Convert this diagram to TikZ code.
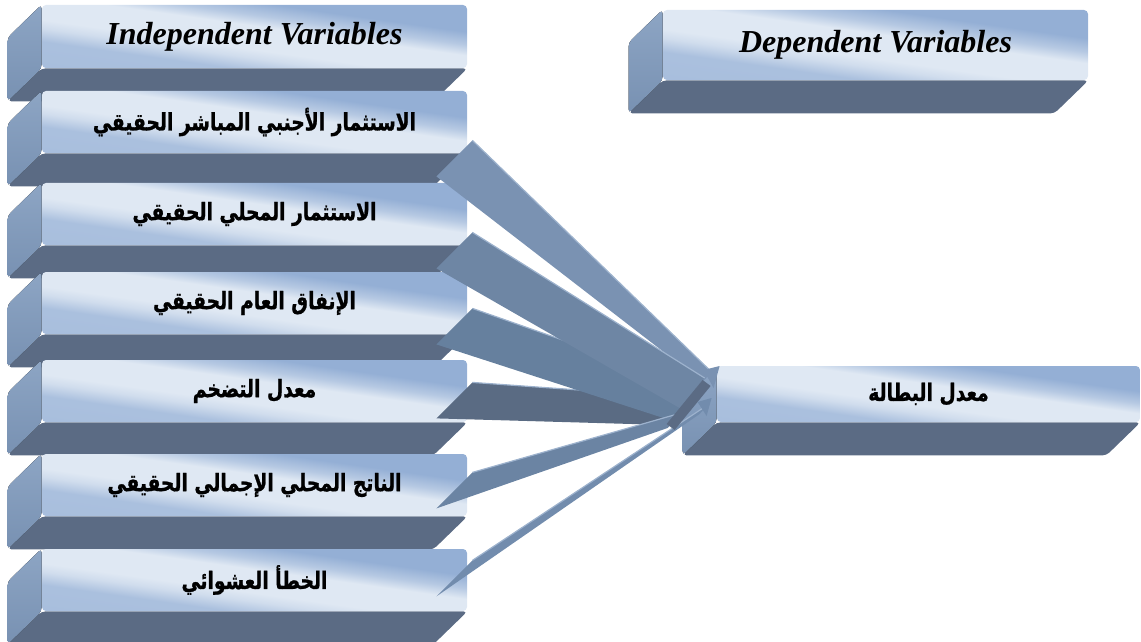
\documentclass[tikz,border=0pt]{standalone}
\usepackage{fontspec}
\setmainfont{Liberation Serif}
\newfontfamily\arabicfont[Script=Arabic, FakeStretch=0.78, FakeBold=1]{DejaVu Sans}
\TeXXeTstate=1
\usetikzlibrary{calc, backgrounds}

\definecolor{faceLight}{HTML}{DFE8F3}
\definecolor{faceBlue}{HTML}{94AFD5}
\definecolor{sideTop}{HTML}{8DA5C4}
\definecolor{sideBot}{HTML}{7891B2}
\definecolor{slate}{HTML}{5B6B84}
\definecolor{arrA}{HTML}{7A92B2}
\definecolor{arrB}{HTML}{6E86A4}
\definecolor{arrC}{HTML}{66809E}
\definecolor{arrD}{HTML}{5A6B83}
\definecolor{arrE}{HTML}{6B84A3}
\definecolor{arrF}{HTML}{728CAD}
\definecolor{edgeLight}{HTML}{9DB2CD}

\pgfdeclareverticalshading{frontshade}{100bp}{color(0bp)=(faceBlue!80!faceLight); color(34bp)=(faceBlue!70!faceLight);
  color(40bp)=(faceLight!80!faceBlue); color(44bp)=(faceLight); color(55bp)=(faceLight); color(60bp)=(faceBlue!55!faceLight);
  color(66bp)=(faceBlue); color(100bp)=(faceBlue)}

\tikzset{
  frontface/.style={rounded corners=2pt, minimum width=212.5pt, minimum height=31pt, inner sep=0pt,
    shading=frontshade, shading angle=-8},
  sideface/.style={rounded corners=2pt, top color=sideTop, bottom color=sideBot},
  bottomface/.style={rounded corners=2pt, fill=slate},
  headtext/.style={font=\fontsize{16}{19}\selectfont\bfseries\itshape},
  labeltext/.style={font=\fontsize{12}{14}\selectfont\arabicfont\bfseries},
  arrowedge/.style={draw=edgeLight, line width=0.6pt}
}

\begin{document}
\begin{tikzpicture}[x=0.5pt, y=-0.5pt]
  \useasboundingbox (0,0) rectangle (1141,642);

  % Independent Variables
  \node[frontface, headtext, minimum height=31.5pt] (indep) at (254.5,36.5) {Independent Variables};
  \node[frontface, labeltext] (fdi) at (254.5,122) {\beginR الاستثمار الأجنبي المباشر الحقيقي\endR};
  \node[frontface, labeltext] (dinv) at (254.5,214) {\beginR الاستثمار المحلي الحقيقي\endR};
  \node[frontface, labeltext] (gspend) at (254.5,303) {\beginR الإنفاق العام الحقيقي\endR};
  \node[frontface, labeltext] (infl) at (254.5,391) {\beginR معدل التضخم\endR};
  \node[frontface, labeltext] (gdp) at (254.5,485) {\beginR الناتج المحلي الإجمالي الحقيقي\endR};
  \node[frontface, labeltext] (err) at (254.5,580) {\beginR الخطأ العشوائي\endR};

  % Dependent Variables
  \node[frontface, headtext, minimum height=35pt] (dep) at (875.5,45) {Dependent Variables};
  \node[frontface, labeltext, minimum width=211.5pt, minimum height=28pt] (unemp) at (928.5,394) {\beginR معدل البطالة\endR};

  % 3D faces
  \begin{pgfonlayer}{background}
    \foreach \b in {indep,fdi,dinv,gspend,infl,gdp,err,dep,unemp}{
      \fill[bottomface] (\b.south west) -- (\b.south east) -- ++(-34,33) -- ($(\b.south west)+(-34,33)$) -- cycle;
      \fill[sideface] (\b.north west) -- (\b.south west) -- ++(-34,33) -- ($(\b.north west)+(-34,33)$) -- cycle;
    }
  \end{pgfonlayer}

  % arrows
  \foreach \src/\ty/\ax/\ay/\bx/\by/\col in {fdi/-13/-5/-22/-14/-12/arrA, infl/-40/-25/4/-50/31/arrD,
      gspend/-26/-17/-6/-47/26/arrC, dinv/-13/-12/-16/-37/14/arrB, gdp/-44/-32/18/-49/34/arrE,
      err/-51/-9/11/-17/20/arrF}{
    \coordinate (tail) at ($(\src.south east)+(5,\ty)$);
    \fill[\col] ($(tail)+(-36,36)$) -- (tail) -- ($(unemp.west)+(\ax,\ay)$) -- ($(unemp.west)+(\bx,\by)$) -- cycle;
    \draw[arrowedge] (tail) -- ($(unemp.west)+(\ax,\ay)$);
  }
  \fill[slate] ($(unemp.west)+(-50,30)$) -- ($(unemp.west)+(-14,-14)$) -- ($(unemp.west)+(-6,-8)$) -- ($(unemp.west)+(-42,36)$) -- cycle;
  \fill[arrA] ($(unemp.west)+(-13,-24)$) -- ($(unemp.west)+(3,-28)$) -- ($(unemp.west)+(-3,-6)$) -- cycle;
  \fill[arrF] ($(unemp.west)+(-19,8)$) -- ($(unemp.west)+(-5,4)$) -- ($(unemp.west)+(-10,22)$) -- cycle;
\end{tikzpicture}
\end{document}
